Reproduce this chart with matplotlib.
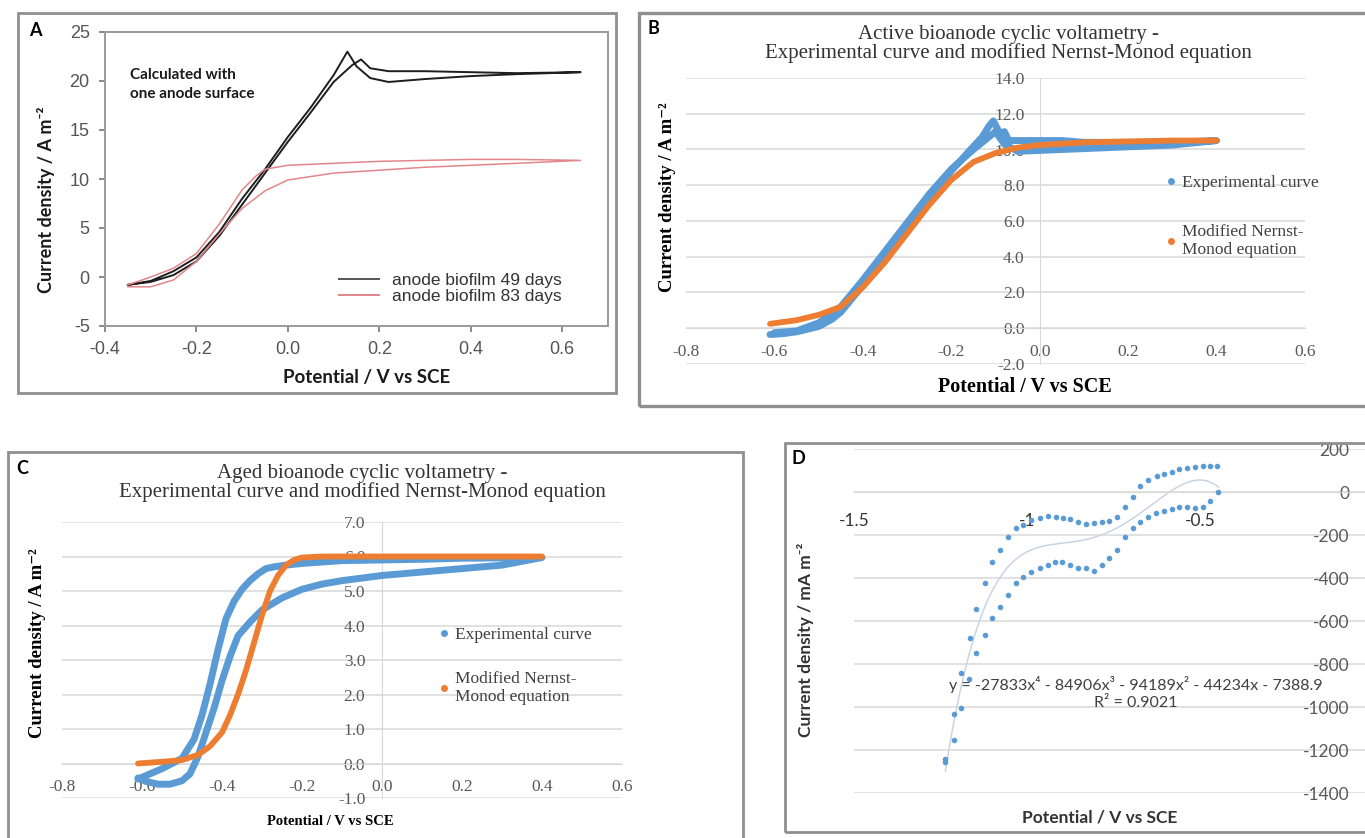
"""Four-panel bioanode cyclic voltammetry figure (A-D)."""

import matplotlib

matplotlib.use("Agg")

import matplotlib.pyplot as plt
import numpy as np
from matplotlib.lines import Line2D
from matplotlib.patches import Rectangle

W, H = 1365, 838

SANS = ["Liberation Sans", "DejaVu Sans"]
CALI = ["Lato", "DejaVu Sans"]
SERIF = ["Liberation Serif", "DejaVu Serif"]

BLUE = "#5b9bd5"
ORANGE = "#ed7d31"
GRID = "#d9d9d9"
TICK = "#595959"

# ---- panel A: anode biofilm CVs -------------------------------------------
a49_fwd_x = [-0.35, -0.30, -0.25, -0.20, -0.15, -0.10, -0.05, 0.00, 0.05, 0.10, 0.13, 0.15, 0.18, 0.22, 0.30, 0.40, 0.50, 0.64]
a49_fwd_y = [-0.8, -0.4, 0.6, 2.0, 4.6, 8.0, 11.0, 14.3, 17.3, 20.6, 23.0, 21.5, 20.3, 19.9, 20.2, 20.5, 20.7, 20.9]
a49_rev_x = [0.64, 0.50, 0.40, 0.30, 0.22, 0.18, 0.16, 0.14, 0.10, 0.05, 0.00, -0.05, -0.10, -0.15, -0.20, -0.25, -0.30, -0.35]
a49_rev_y = [20.9, 20.8, 20.9, 21.0, 21.0, 21.3, 22.2, 21.6, 19.9, 16.8, 13.8, 10.6, 7.4, 4.2, 1.6, 0.2, -0.5, -0.8]

a83_fwd_x = [-0.35, -0.30, -0.25, -0.20, -0.15, -0.10, -0.07, -0.05, 0.00, 0.10, 0.20, 0.30, 0.40, 0.50, 0.64]
a83_fwd_y = [-0.8, 0.0, 0.9, 2.4, 5.4, 8.9, 10.3, 11.0, 11.4, 11.6, 11.8, 11.9, 12.0, 12.0, 11.9]
a83_rev_x = [0.64, 0.50, 0.40, 0.30, 0.20, 0.10, 0.00, -0.05, -0.10, -0.15, -0.20, -0.25, -0.30, -0.35]
a83_rev_y = [11.9, 11.6, 11.4, 11.2, 10.9, 10.6, 9.9, 8.8, 7.0, 4.4, 1.6, -0.3, -1.0, -1.0]

# ---- panel B: active bioanode ---------------------------------------------
b_exp_x = [-0.61, -0.58, -0.55, -0.50, -0.47, -0.45, -0.40, -0.35, -0.30, -0.25, -0.20, -0.16, -0.13,
           -0.115, -0.105, -0.09, -0.08, -0.07, -0.05, 0.0, 0.05, 0.1, 0.2, 0.3, 0.4,
           0.3, 0.2, 0.1, 0.0, -0.05, -0.08, -0.1, -0.12, -0.15, -0.2, -0.25, -0.3, -0.35, -0.4,
           -0.45, -0.5, -0.55, -0.6]
b_exp_y = [-0.35, -0.3, -0.2, 0.1, 0.5, 0.9, 2.4, 3.9, 5.6, 7.2, 8.8, 9.9, 10.7,
           11.3, 11.6, 10.9, 11.0, 10.5, 10.5, 10.5, 10.5, 10.4, 10.4, 10.4, 10.5,
           10.25, 10.15, 10.05, 9.95, 9.9, 10.3, 11.0, 10.6, 10.0, 8.9, 7.5, 5.9, 4.3, 2.7,
           1.2, 0.3, -0.15, -0.25]
b_mod_x = [-0.61, -0.55, -0.50, -0.45, -0.40, -0.35, -0.30, -0.25, -0.20, -0.15, -0.10, -0.05, 0.00, 0.10, 0.20, 0.30, 0.40]
b_mod_y = [0.25, 0.45, 0.75, 1.2, 2.3, 3.7, 5.3, 6.9, 8.3, 9.3, 9.8, 10.1, 10.25, 10.4, 10.45, 10.5, 10.5]

# ---- panel C: aged bioanode -----------------------------------------------
c_exp_x = [-0.61, -0.58, -0.55, -0.50, -0.47, -0.45, -0.43, -0.41, -0.39, -0.37, -0.35, -0.33, -0.31,
           -0.29, -0.27, -0.24, -0.20, -0.10, 0.0, 0.1, 0.2, 0.3, 0.4,
           0.3, 0.2, 0.1, 0.0, -0.1, -0.15, -0.2, -0.25, -0.3, -0.33, -0.36, -0.38, -0.40,
           -0.42, -0.44, -0.46, -0.48, -0.50, -0.53, -0.56, -0.59, -0.61]
c_exp_y = [-0.45, -0.3, -0.15, 0.15, 0.7, 1.4, 2.3, 3.3, 4.2, 4.7, 5.05, 5.3, 5.5,
           5.65, 5.7, 5.75, 5.8, 5.88, 5.9, 5.92, 5.95, 5.96, 5.97,
           5.75, 5.65, 5.55, 5.45, 5.3, 5.2, 5.05, 4.8, 4.45, 4.1, 3.7, 3.1, 2.4,
           1.6, 0.9, 0.2, -0.3, -0.5, -0.6, -0.6, -0.52, -0.42]
c_mod_x = [-0.61, -0.55, -0.50, -0.46, -0.43, -0.40, -0.38, -0.36, -0.34, -0.32, -0.30, -0.28, -0.26,
           -0.24, -0.22, -0.20, -0.15, -0.10, 0.0, 0.2, 0.4]
c_mod_y = [0.0, 0.05, 0.1, 0.25, 0.5, 0.9, 1.4, 2.0, 2.7, 3.5, 4.3, 5.0, 5.45,
           5.75, 5.9, 5.97, 6.0, 6.0, 6.0, 6.0, 6.0]

# ---- panel D: mA m-2 scatter ----------------------------------------------
d_up_x = [-1.236, -1.211, -1.190, -1.165, -1.146, -1.120, -1.101, -1.077, -1.055, -1.033, -1.011, -0.987,
          -0.963, -0.939, -0.917, -0.896, -0.876, -0.852, -0.830, -0.807, -0.784, -0.762, -0.741, -0.717,
          -0.695, -0.672, -0.650, -0.625, -0.604, -0.582, -0.560, -0.539, -0.514, -0.492, -0.471, -0.450]
d_up_y = [-1254, -1033, -843, -681, -544, -422, -326, -270, -208, -169, -153, -130,
          -122, -112, -115, -119, -126, -138, -150, -146, -138, -135, -115, -68,
          -25, 28, 56, 74, 84, 94, 107, 110, 118, 122, 122, 122]
d_lo_x = [-1.236, -1.211, -1.190, -1.167, -1.146, -1.122, -1.101, -1.077, -1.055, -1.032, -1.011, -0.987,
          -0.963, -0.939, -0.920, -0.900, -0.876, -0.852, -0.830, -0.807, -0.784, -0.762, -0.741, -0.717,
          -0.695, -0.672, -0.650, -0.627, -0.604, -0.582, -0.560, -0.539, -0.514, -0.492, -0.471, -0.447]
d_lo_y = [-1240, -1153, -1003, -871, -750, -665, -588, -533, -479, -422, -394, -371,
          -355, -340, -324, -324, -340, -355, -355, -367, -340, -308, -270, -208,
          -169, -138, -115, -99, -87, -79, -68, -68, -73, -68, -40, -1]


def px_rect(left, top, right, bottom):
    return [left / W, 1 - bottom / H, (right - left) / W, (bottom - top) / H]


def fx(x):
    return x / W


def fy(y):
    return 1 - y / H


def panel_border(fig, left, top, right, bottom, lw=2.0):
    fig.add_artist(Rectangle((fx(left), fy(bottom)), fx(right - left), (bottom - top) / H,
                             transform=fig.transFigure, fill=False, edgecolor="#8f8f8f", lw=lw))


def excel_axes(ax, xticks, yticks, yfmt, xfmt, ypad, xpad, family, size, xcolor=TICK):
    # spines first: moving a spine resets the tick label styling
    for side in ("top", "right"):
        ax.spines[side].set_visible(False)
    ax.spines["left"].set_position(("data", 0))
    ax.spines["left"].set_color(GRID)
    ax.spines["bottom"].set_position(("data", 0))
    ax.spines["bottom"].set_color(GRID)
    ax.set_yticks(yticks)
    ax.set_xticks(xticks)
    ax.set_yticklabels([yfmt.format(v) for v in yticks], family=family, fontsize=size, color=TICK)
    ax.set_xticklabels([xfmt(v) for v in xticks], family=family, fontsize=size, color=xcolor)
    ax.yaxis.grid(True, color=GRID, lw=1.1)
    ax.set_axisbelow(True)
    ax.tick_params(axis="y", length=0, pad=ypad)
    ax.tick_params(axis="x", length=0, pad=xpad)
    ax.patch.set_alpha(0)


fig = plt.figure(figsize=(W / 100, H / 100), dpi=100)

# ============================== A ==========================================
panel_border(fig, 18, 13, 616, 393)
axA = fig.add_axes(px_rect(105, 32, 608, 326))
axA.plot(a49_fwd_x + a49_rev_x, a49_fwd_y + a49_rev_y, color="#1e1e1e", lw=1.4)
axA.plot(a83_fwd_x + a83_rev_x, a83_fwd_y + a83_rev_y, color="#e2868b", lw=1.1)
axA.set_xlim(-0.4, 0.7)
axA.set_ylim(-5, 25)
axA.set_xticks([-0.4, -0.2, 0.0, 0.2, 0.4, 0.6])
axA.set_xticklabels(["-0.4", "-0.2", "0.0", "0.2", "0.4", "0.6"], family=SANS, fontsize=13, color="#555555")
axA.set_yticks([-5, 0, 5, 10, 15, 20, 25])
axA.set_yticklabels(["-5", "0", "5", "10", "15", "20", "25"], family=SANS, fontsize=13, color="#555555")
axA.tick_params(length=4, color="#777777", width=1.2, pad=7)
for sp in axA.spines.values():
    sp.set_color("#9a9a9a")
    sp.set_linewidth(1.4)
axA.legend(
    handles=[Line2D([], [], color="#555555", lw=1.4), Line2D([], [], color="#e2868b", lw=1.4)],
    labels=["anode biofilm 49 days", "anode biofilm 83 days"],
    loc="upper left", bbox_to_anchor=(fx(330), fy(264)), bbox_transform=fig.transFigure,
    frameon=False, borderpad=0, handlelength=2.3, handletextpad=0.8, labelspacing=0.05,
    prop={"family": SANS, "size": 12.5}, labelcolor="#333333",
)
fig.text(fx(130), fy(68), "Calculated with\none anode surface", family=CALI, fontsize=11,
         fontweight="bold", va="top", ha="left", linespacing=1.5, color="#1a1a1a")
fig.text(fx(35), fy(30), "A", family=CALI, fontsize=13, fontweight="bold", ha="center", va="center")
fig.text(fx(46), fy(200), "Current density / A m⁻²", family=CALI, fontsize=13, fontweight="bold",
         rotation=90, ha="center", va="center", color="#1a1a1a")
fig.text(fx(367), fy(378), "Potential / V vs SCE", family=CALI, fontsize=13.5, fontweight="bold",
         ha="center", va="center", color="#1a1a1a")

# ============================== B ==========================================
panel_border(fig, 639, 13, 1372, 406, lw=2.4)
axB = fig.add_axes(px_rect(686, 78, 1305, 364))
axB.set_xlim(-0.8, 0.6)
axB.set_ylim(-2, 14)
excel_axes(axB, [-0.8, -0.6, -0.4, -0.2, 0.0, 0.2, 0.4, 0.6], list(range(-2, 15, 2)), "{:.1f}",
           lambda v: f"{v:.1f}", 11, 11, SERIF, 12.5)
axB.plot(b_exp_x, b_exp_y, color=BLUE, lw=5, solid_capstyle="round", zorder=3)
axB.plot(b_mod_x, b_mod_y, color=ORANGE, lw=4.2, solid_capstyle="round", zorder=4)
axB.legend(
    handles=[Line2D([], [], color=BLUE, marker="o", ls="none", ms=4),
             Line2D([], [], color=ORANGE, marker="o", ls="none", ms=4)],
    labels=["Experimental curve", "Modified Nernst-\nMonod equation"],
    loc="upper left", bbox_to_anchor=(fx(1158), fy(166)), bbox_transform=fig.transFigure,
    frameon=False, borderpad=0, handlelength=0.5, handletextpad=0.4, labelspacing=1.9,
    prop={"family": SERIF, "size": 12.5}, labelcolor="#404040",
)
fig.text(fx(653), fy(28), "B", family=CALI, fontsize=13, fontweight="bold", ha="center", va="center")
fig.text(fx(1008), fy(44), "Active bioanode cyclic voltametry -\nExperimental curve and modified Nernst-Monod equation",
         family=SERIF, fontsize=15, ha="center", va="center", linespacing=1.0, color="#333333")
fig.text(fx(668), fy(197), "Current density / A m⁻²", family=SERIF, fontsize=13.5, fontweight="bold",
         rotation=90, ha="center", va="center")
fig.text(fx(1025), fy(387), "Potential / V vs SCE", family=SERIF, fontsize=14.5, fontweight="bold",
         ha="center", va="center")

# ============================== C ==========================================
panel_border(fig, 8, 452, 743, 850)
axC = fig.add_axes(px_rect(62, 522, 622, 798))
axC.set_xlim(-0.8, 0.6)
axC.set_ylim(-1, 7)
excel_axes(axC, [-0.8, -0.6, -0.4, -0.2, 0.0, 0.2, 0.4, 0.6], list(range(-1, 8)), "{:.1f}",
           lambda v: f"{v:.1f}", 12, 11, SERIF, 12.5)
axC.plot(c_exp_x, c_exp_y, color=BLUE, lw=5, solid_capstyle="round", zorder=3)
axC.plot(c_mod_x, c_mod_y, color=ORANGE, lw=4.2, solid_capstyle="round", zorder=4)
axC.legend(
    handles=[Line2D([], [], color=BLUE, marker="o", ls="none", ms=4),
             Line2D([], [], color=ORANGE, marker="o", ls="none", ms=4)],
    labels=["Experimental curve", "Modified Nernst-\nMonod equation"],
    loc="upper left", bbox_to_anchor=(fx(431), fy(618)), bbox_transform=fig.transFigure,
    frameon=False, borderpad=0, handlelength=0.5, handletextpad=0.4, labelspacing=1.6,
    prop={"family": SERIF, "size": 12.5}, labelcolor="#404040",
)
fig.text(fx(22), fy(468), "C", family=CALI, fontsize=13, fontweight="bold", ha="center", va="center")
fig.text(fx(362), fy(483), "Aged bioanode cyclic voltametry -\nExperimental curve and modified Nernst-Monod equation",
         family=SERIF, fontsize=15, ha="center", va="center", linespacing=1.0, color="#333333")
fig.text(fx(38), fy(643), "Current density / A m⁻²", family=SERIF, fontsize=13.5, fontweight="bold",
         rotation=90, ha="center", va="center")
fig.text(fx(330), fy(821), "Potential / V vs SCE", family=SERIF, fontsize=10.5, fontweight="bold",
         ha="center", va="center")

# ============================== D ==========================================
panel_border(fig, 785, 443, 1372, 832)
axD = fig.add_axes(px_rect(854, 449, 1373, 793))
axD.set_xlim(-1.5, 0)
axD.set_ylim(-1400, 200)
excel_axes(axD, [-1.5, -1.0, -0.5, 0.0], list(range(-1400, 201, 200)), "{:d}",
           lambda v: f"{v:g}", 17, 15, CALI, 12.5, xcolor="#333333")
axD.spines["left"].set_visible(False)
axD.scatter(d_up_x, d_up_y, s=16, color=BLUE, zorder=3, linewidths=0)
axD.scatter(d_lo_x, d_lo_y, s=16, color=BLUE, zorder=3, linewidths=0)
d_x = np.array(d_up_x + d_lo_x)
d_y = np.array(d_up_y + d_lo_y)
d_coef = np.polyfit(d_x, d_y, 4)
d_fit_x = np.linspace(d_x.min(), d_x.max(), 200)
axD.plot(d_fit_x, np.polyval(d_coef, d_fit_x), color="#c9d4e4", lw=1.1, zorder=2)
fig.text(fx(798), fy(458), "D", family=CALI, fontsize=13, fontweight="bold", ha="center", va="center")
fig.text(fx(1136), fy(693), "y = -27833x⁴ - 84906x³ - 94189x² - 44234x - 7388.9\nR² = 0.9021",
         family=CALI, fontsize=11.5, ha="center", va="center", linespacing=1.25, color="#404040")
fig.text(fx(806), fy(640), "Current density / mA m⁻²", family=CALI, fontsize=12.5, fontweight="bold",
         rotation=90, ha="center", va="center", color="#333333")
fig.text(fx(1100), fy(817), "Potential / V vs SCE", family=CALI, fontsize=12.5, fontweight="bold",
         ha="center", va="center", color="#333333")

fig.savefig("out.png", dpi=100)
